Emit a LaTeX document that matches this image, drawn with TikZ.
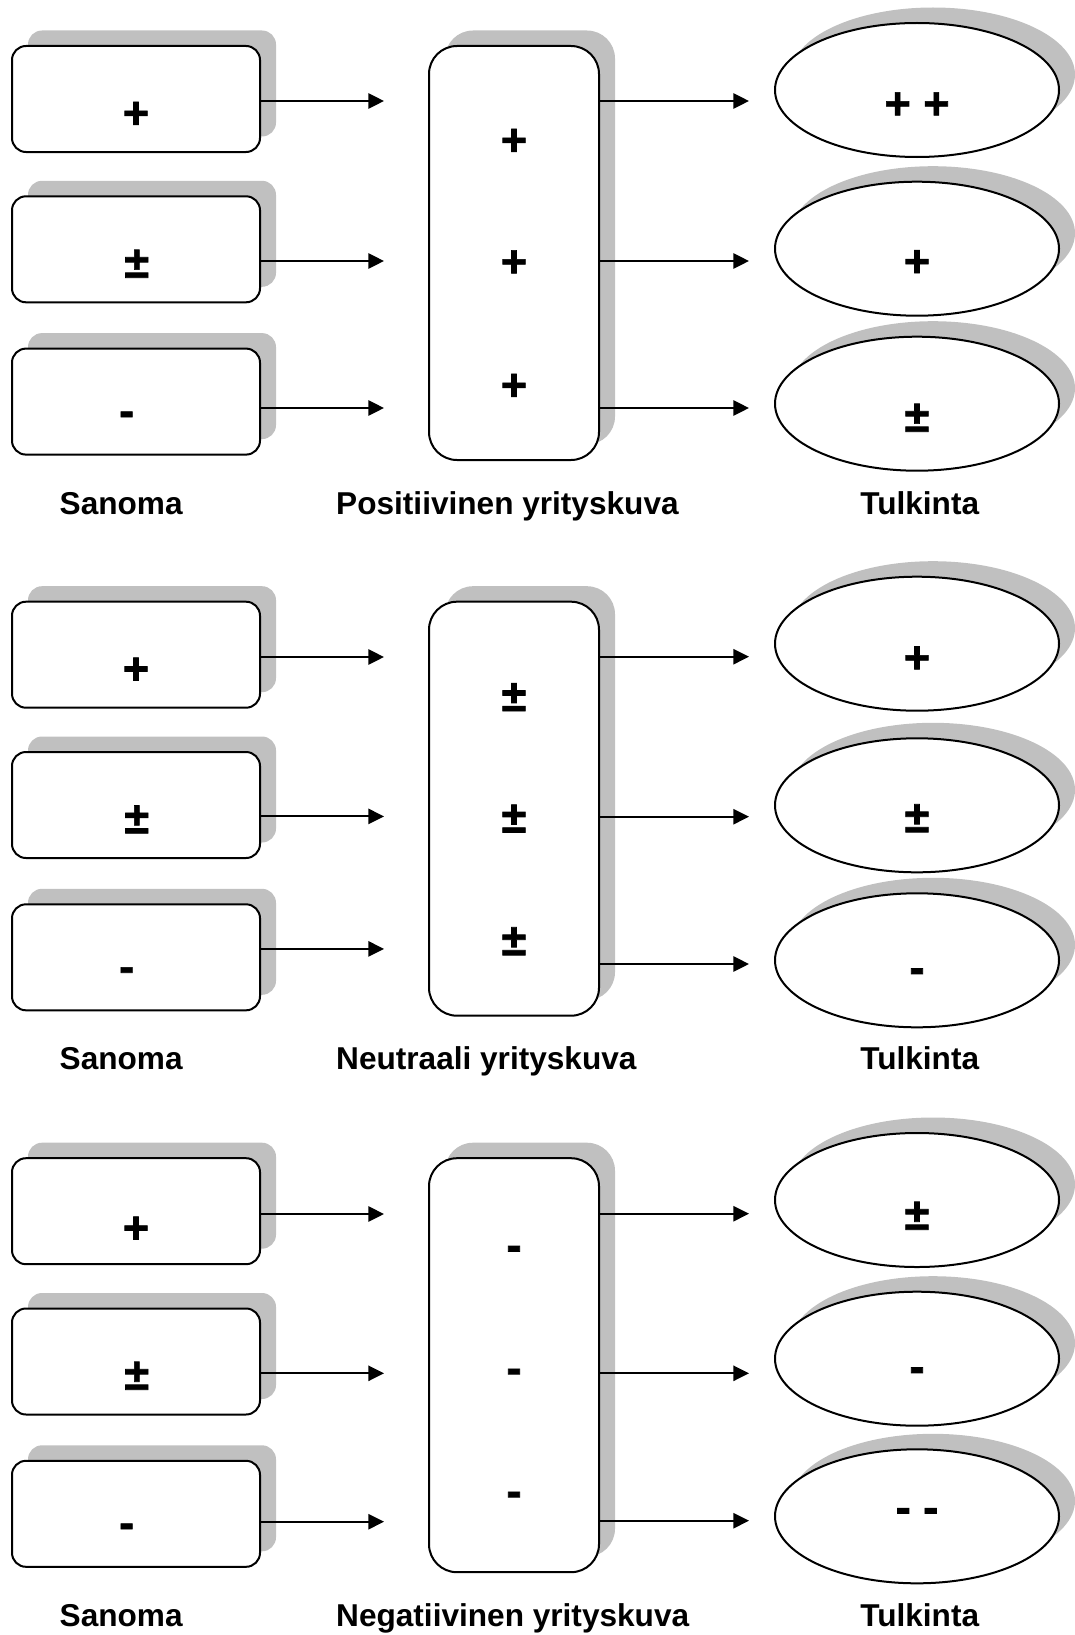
\documentclass[tikz,border=0pt]{standalone}
\usepackage{fontspec}
\setmainfont{Liberation Sans}
\newfontfamily\symfont{Liberation Sans}[BoldFeatures={FakeBold=1.5}]
\usetikzlibrary{arrows.meta,shadows,shapes.geometric}
\definecolor{shadowgray}{RGB}{192,192,192}
\begin{document}
\begin{tikzpicture}[x=1pt,y=-1pt,
  lifted/.style={drop shadow={shadow xshift=16pt,shadow yshift=15.5pt,fill=shadowgray,opacity=1}},
  card/.style={draw,line width=2pt,fill=white,rounded corners=14pt,
    minimum width=248pt,minimum height=106pt,inner sep=0pt,lifted},
  pillar/.style={draw,line width=2pt,fill=white,rounded corners=28pt,
    minimum width=170pt,minimum height=414pt,inner sep=0pt,lifted},
  oval/.style={ellipse,draw,line width=2pt,fill=white,
    minimum width=284pt,minimum height=134pt,inner sep=0pt,lifted},
  sym/.style={font=\symfont\bfseries\fontsize{45}{45}\selectfont,inner sep=0pt,anchor=base},
  caption/.style={font=\bfseries\fontsize{31.6}{36}\selectfont,inner sep=0pt,anchor=base west},
  captionc/.style={caption,anchor=base},
  arr/.style={line width=2pt,-{Triangle[length=15.7pt,width=15.3pt]}}
]
\useasboundingbox (0,0) rectangle (1074,1635);

% glyph centre offsets (baseline below the visual centre)
\def\po{15.8}\def\mo{12.2}\def\pmo{15}

% ---------- positive image ----------
\begin{scope}
  \node[card] (pa1) at (136,99) {};
  \node[card] (pa2) at (136,249.3) {};
  \node[card] (pa3) at (136,401.6) {};
  \node[pillar] (pm) at (514,253) {};
  \node[oval] (pe1) at (917,90) {};
  \node[oval] (pe2) at (917,248.7) {};
  \node[oval] (pe3) at (917,403.7) {};

  \node[sym] (pa1s) at (136,112.5+\po) {+};
  \node[sym] (pa2s) at (136.8,262.7+\pmo) {±};
  \node[sym] (pa3s) at (126.7,413.8+\mo) {-};
  \node[sym] (pm1s) at (514,139.5+\po) {+};
  \node[sym] (pm2s) at (514,261+\po) {+};
  \node[sym] (pm3s) at (514,384.5+\po) {+};
  \node[sym] (pe1s) at (917,103+\po) {+ +};
  \node[sym] (pe2s) at (917,260.8+\po) {+};
  \node[sym] (pe3s) at (917,416.7+\pmo) {±};

  \coordinate (pa1t) at (384,101);
  \coordinate (pa2t) at (384,261);
  \coordinate (pa3t) at (384,408);
  \coordinate (pe1t) at (749,101);
  \coordinate (pe2t) at (749,261);
  \coordinate (pe3t) at (749,408);
  \draw[arr] (pa1.east |- pa1t) -- (pa1t);
  \draw[arr] (pa2.east |- pa2t) -- (pa2t);
  \draw[arr] (pa3.east |- pa3t) -- (pa3t);
  \draw[arr] (pm.east |- pe1t) -- (pe1t);
  \draw[arr] (pm.east |- pe2t) -- (pe2t);
  \draw[arr] (pm.east |- pe3t) -- (pe3t);

  \node[caption] (pcap1) at (59.5,514) {Sanoma};
  \node[caption] (pcap2) at (336,514) {Positiivinen yrityskuva};
  \node[captionc] (pcap3) at (919.7,514) {Tulkinta};
\end{scope}

% ---------- neutral image ----------
\begin{scope}[shift={(0,555.7)}]
  \node[card] (na1) at (136,99) {};
  \node[card] (na2) at (136,249.3) {};
  \node[card] (na3) at (136,401.6) {};
  \node[pillar] (nm) at (514,253) {};
  \node[oval] (ne1) at (917,88) {};
  \node[oval] (ne2) at (917,249.6) {};
  \node[oval] (ne3) at (917,404.6) {};

  \node[sym] (na1s) at (136,112.5+\po) {+};
  \node[sym] (na2s) at (136.8,262.7+\pmo) {±};
  \node[sym] (na3s) at (126.7,413.8+\mo) {-};
  \node[sym] (nm1s) at (514,140.3+\pmo) {±};
  \node[sym] (nm2s) at (514,261.8+\pmo) {±};
  \node[sym] (nm3s) at (514,384.5+\pmo) {±};
  \node[sym] (ne1s) at (917,101.3+\po) {+};
  \node[sym] (ne2s) at (917,261.5+\pmo) {±};
  \node[sym] (ne3s) at (917,415+\mo) {-};

  \coordinate (na1t) at (384,101.3);
  \coordinate (na2t) at (384,260.7);
  \coordinate (na3t) at (384,393.2);
  \coordinate (ne1t) at (749,101);
  \coordinate (ne2t) at (749,261);
  \coordinate (ne3t) at (749,408.3);
  \draw[arr] (na1.east |- na1t) -- (na1t);
  \draw[arr] (na2.east |- na2t) -- (na2t);
  \draw[arr] (na3.east |- na3t) -- (na3t);
  \draw[arr] (nm.east |- ne1t) -- (ne1t);
  \draw[arr] (nm.east |- ne2t) -- (ne2t);
  \draw[arr] (nm.east |- ne3t) -- (ne3t);

  \node[caption] (ncap1) at (59.5,514) {Sanoma};
  \node[caption] (ncap2) at (336,514) {Neutraali yrityskuva};
  \node[captionc] (ncap3) at (919.7,514) {Tulkinta};
\end{scope}

% ---------- negative image ----------
\begin{scope}[shift={(0,1112.2)}]
  \node[card] (ga1) at (136,99) {};
  \node[card] (ga2) at (136,249.3) {};
  \node[card] (ga3) at (136,401.6) {};
  \node[pillar] (gm) at (514,253) {};
  \node[oval] (ge1) at (917,87.8) {};
  \node[oval] (ge2) at (917,246.5) {};
  \node[oval] (ge3) at (917,404.1) {};

  \node[sym] (ga1s) at (136,115+\po) {+};
  \node[sym] (ga2s) at (136.8,262.5+\pmo) {±};
  \node[sym] (ga3s) at (126.7,413.6+\mo) {-};
  \node[sym] (gm1s) at (514,136+\mo) {-};
  \node[sym] (gm2s) at (514,258.8+\mo) {-};
  \node[sym] (gm3s) at (514,381.8+\mo) {-};
  \node[sym] (ge1s) at (917,102.5+\pmo) {±};
  \node[sym] (ge2s) at (917,257.5+\mo) {-};
  \node[sym] (ge3s) at (917,398.1+\mo) {- -};

  \coordinate (ga1t) at (384,101.8);
  \coordinate (ga2t) at (384,261.1);
  \coordinate (ga3t) at (384,409.5);
  \coordinate (ge1t) at (749,101.5);
  \coordinate (ge2t) at (749,261.1);
  \coordinate (ge3t) at (749,408.5);
  \draw[arr] (ga1.east |- ga1t) -- (ga1t);
  \draw[arr] (ga2.east |- ga2t) -- (ga2t);
  \draw[arr] (ga3.east |- ga3t) -- (ga3t);
  \draw[arr] (gm.east |- ge1t) -- (ge1t);
  \draw[arr] (gm.east |- ge2t) -- (ge2t);
  \draw[arr] (gm.east |- ge3t) -- (ge3t);

  \node[caption] (gcap1) at (59.5,514) {Sanoma};
  \node[caption] (gcap2) at (336,514) {Negatiivinen yrityskuva};
  \node[captionc] (gcap3) at (919.7,514) {Tulkinta};
\end{scope}
\end{tikzpicture}
\end{document}
